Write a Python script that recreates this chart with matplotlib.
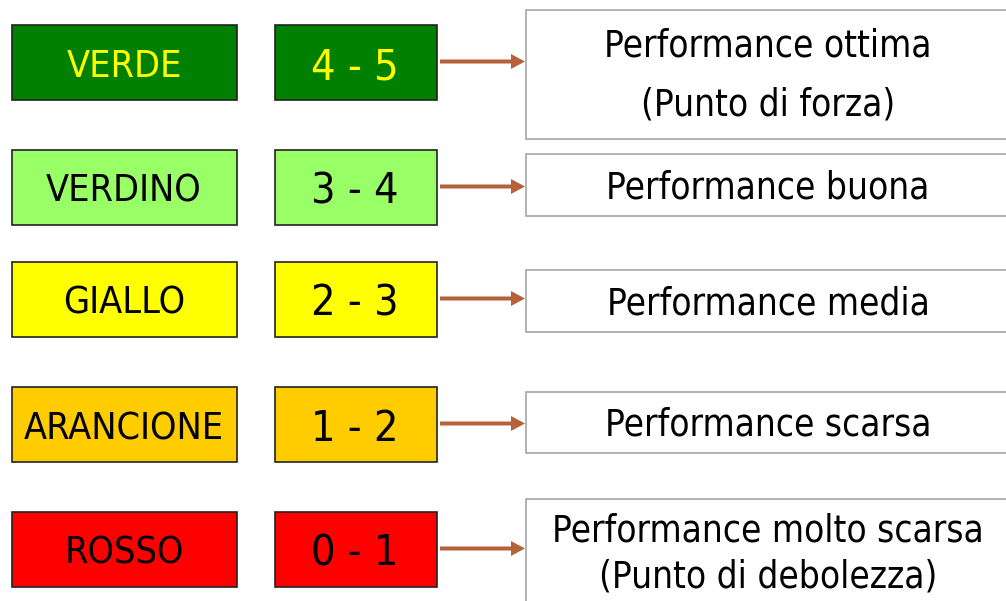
import matplotlib.pyplot as plt
from matplotlib.patches import Rectangle

# dati della legenda
colori_nome = ["VERDE", "VERDINO", "GIALLO", "ARANCIONE", "ROSSO"]
intervalli = ["4 - 5", "3 - 4", "2 - 3", "1 - 2", "0 - 1"]
descrizioni = [["Performance ottima", "(Punto di forza)"],
               ["Performance buona"],
               ["Performance media"],
               ["Performance scarsa"],
               ["Performance molto scarsa", "(Punto di debolezza)"]]
riempimento = ["#008000", "#99FF66", "#FFFF00", "#FFCC00", "#FF0000"]
colore_testo = ["#FFFF00", "black", "black", "black", "black"]

# layout (pixel)
righe_y = [25, 150, 262, 387, 512]
alt = 75
box_dx = [(10, 139), (154, 216), (270, 332), (392, 453), (499, 640)]
baseline_dx = [[56.7, 116], [198.5], [314.5], [436], [541.7, 587.7]]
freccia = "#B5613A"

fig = plt.figure(figsize=(10.06, 6.01), dpi=100)
ax = fig.add_axes([0, 0, 1, 1])
ax.set_xlim(0, 1006)
ax.set_ylim(601, 0)
ax.axis("off")

font = "DejaVu Sans"

for i in range(len(colori_nome)):
    y0 = righe_y[i]
    yc = y0 + alt / 2
    ax.add_patch(Rectangle((12, y0), 225, alt, facecolor=riempimento[i],
                           edgecolor="#222222", lw=1.2))
    ax.text(124, y0 + 52, colori_nome[i], ha="center", va="baseline",
            fontsize=27, color=colore_testo[i], family=font, fontstretch="condensed")
    ax.add_patch(Rectangle((275, y0), 162, alt, facecolor=riempimento[i],
                           edgecolor="#222222", lw=1.2))
    ax.text(355, y0 + 54, intervalli[i], ha="center", va="baseline",
            fontsize=31, color=colore_testo[i], family=font, fontstretch="condensed")
    # freccia
    ax.arrow(440, yc - 1, 85, 0, width=4, head_width=15, head_length=14,
             length_includes_head=True, color=freccia, lw=0)
    # box descrizione
    b0, b1 = box_dx[i]
    ax.add_patch(Rectangle((526, b0), 600, b1 - b0, facecolor="white",
                           edgecolor="#A6A6A6", lw=1.2))
    for riga, yb in zip(descrizioni[i], baseline_dx[i]):
        ax.text(768, yb, riga, ha="center", va="baseline", fontsize=26.5,
                color="black", family=font, fontstretch="condensed")

fig.savefig("out.png", dpi=100)
